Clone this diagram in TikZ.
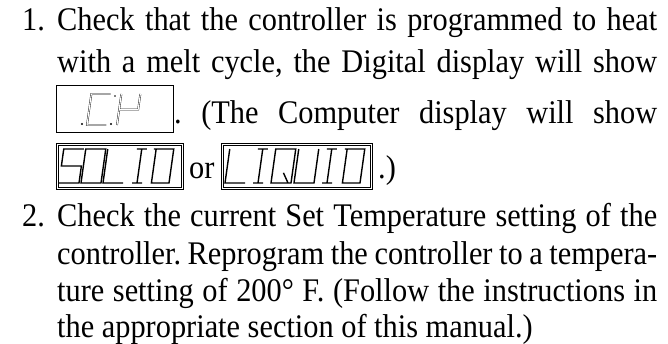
\documentclass[tikz,border=0pt]{standalone}
\usepackage{fontspec}
\setmainfont{Liberation Serif}[FakeStretch=0.92]
\frenchspacing

% one character of the slanted segment display, drawn in a 1x1 cell
\newcommand{\lcdchar}[4][lcdseg]{%
  \begin{scope}[shift={(#2,#3)},xslant=0.14,x=20pt,y=34pt]
    \draw[#1] #4;
  \end{scope}}

\begin{document}
\begin{tikzpicture}[x=1pt,y=-1pt,
    txt/.style={inner sep=0pt,anchor=base west,font=\fontsize{33}{38}\selectfont},
    lcdbox/.style={draw,line width=0.7pt,inner sep=0pt,anchor=north west},
    lcdseg/.style={line width=1.4pt,line join=miter},
    lcdthin/.style={double,line width=0.35pt,double distance=1.1pt}]
    \useasboundingbox (0,0) rectangle (668,343);

    % item 1
    \node[txt] (n1) at (22,30) {1.};
    \node[txt] (l1) at (57,30) {\makebox[600pt][s]{Check that the controller is programmed to heat}};
    \node[txt] (l2) at (57,72) {\makebox[600pt][s]{with a melt cycle, the Digital display will show}};

    % digital display
    \node[lcdbox,minimum width=117pt,minimum height=47pt] (cp) at (56,85) {};
    \fill (82,124) circle (1.1);
    \lcdchar[lcdthin,y=31pt,x=19pt]{87}{125}{(1,1)--(0,1)--(0,0)--(1,0)};
    \fill (111,124) circle (1.1);
    \fill (115,96) circle (0.9);
    \lcdchar[lcdthin,y=31pt,x=19pt]{117}{125}{(0,0)--(0,1) (0,.5)--(1,.5)--(1,1)};
    \node[txt] (l3) at (174,123) {\makebox[483pt][s]{. (The Computer display will show}};

    % computer display
    \node[lcdbox,minimum width=127pt,minimum height=46pt] (solid) at (56,143) {};
    \draw[line width=1.1pt] ([shift={(2.5,2.5)}]solid.north west) rectangle ([shift={(-2.5,-2.5)}]solid.south east);
    \lcdchar{59}{183}{(1,1)--(0,1)--(0,.5)--(1,.5)--(1,0)--(0,0)};
    \lcdchar{81}{183}{(0,0)--(1,0)--(1,1)--(0,1)--cycle};
    \lcdchar{103}{183}{(0,1)--(0,0)--(1,0)};
    \lcdchar{127}{183}{(.25,1)--(.75,1) (.5,1)--(.5,0) (.25,0)--(.75,0)};
    \lcdchar{149}{183}{(0,1)--(1,1)--(1,0)--(.12,0)--(.12,1)};

    \node[txt] (or) at (189,178) {or};

    \node[lcdbox,minimum width=151pt,minimum height=46pt] (liquid) at (221,143) {};
    \draw[line width=1.1pt] ([shift={(2.5,2.5)}]liquid.north west) rectangle ([shift={(-2.5,-2.5)}]liquid.south east);
    \lcdchar{225}{183}{(0,1)--(0,0)--(1,0)};
    \lcdchar{248}{183}{(.25,1)--(.75,1) (.5,1)--(.5,0) (.25,0)--(.75,0)};
    \lcdchar{271}{183}{(0,0)--(1,0)--(1,1)--(0,1)--cycle (.55,.3)--(.85,0)};
    \lcdchar{294}{183}{(0,1)--(0,0)--(1,0)--(1,1)};
    \lcdchar{317}{183}{(.25,1)--(.75,1) (.5,1)--(.5,0) (.25,0)--(.75,0)};
    \lcdchar{340}{183}{(0,1)--(1,1)--(1,0)--(.12,0)--(.12,1)};
    \node[txt] (close) at (378,178) {.)};

    % item 2
    \node[txt] (n2) at (22,226) {2.};
    \node[txt] (l5) at (57,226) {\makebox[600pt][s]{Check the current Set Temperature setting of the}};
    \node[txt] (l6) at (57,264) {\makebox[600pt][s]{controller. Reprogram the controller to a tempera-}};
    \node[txt] (l7) at (57,301) {\makebox[600pt][s]{ture setting of 200° F. (Follow the instructions in}};
    \node[txt] (l8) at (57,337) {the appropriate section of this manual.)};
\end{tikzpicture}
\end{document}
